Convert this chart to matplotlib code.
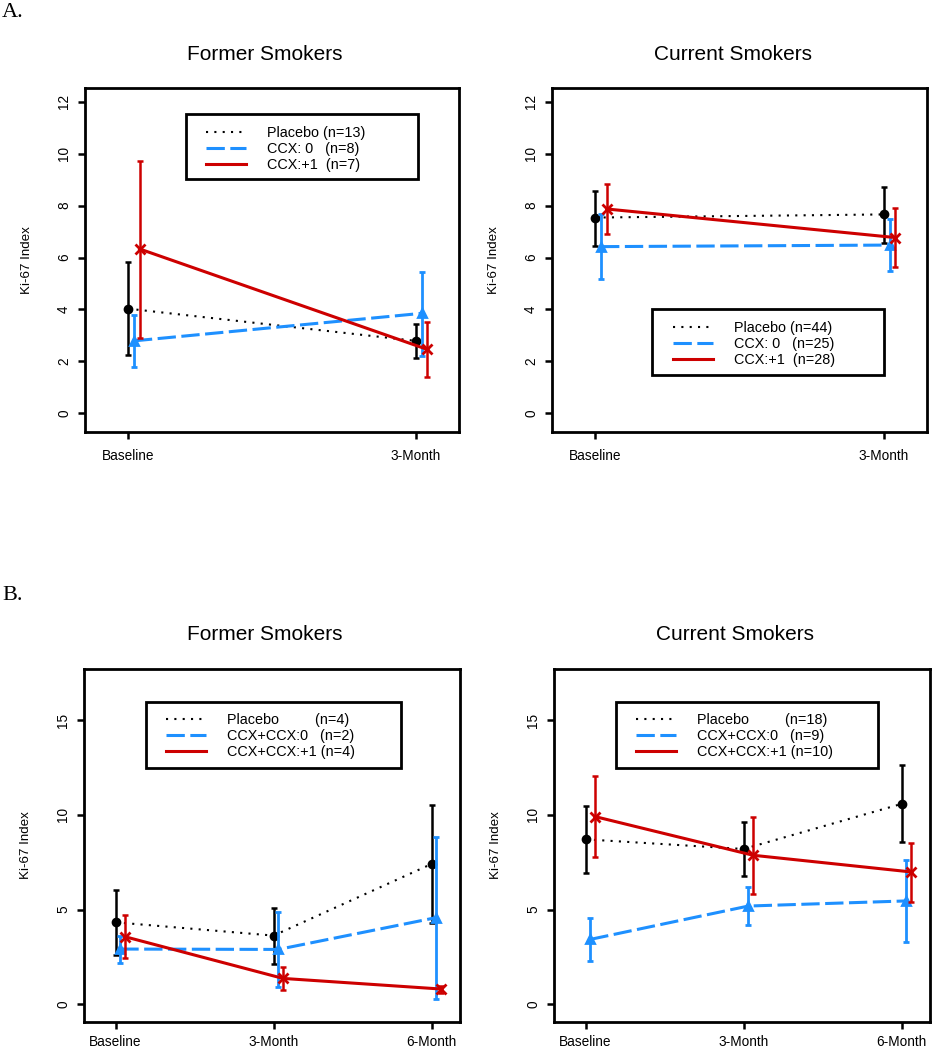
import matplotlib.pyplot as plt
from matplotlib.patches import Rectangle

plt.rcParams["font.family"] = ["Liberation Sans", "DejaVu Sans"]

# time points
times_a = ["Baseline", "3-Month"]
times_b = ["Baseline", "3-Month", "6-Month"]

# rows: placebo, CCX 0, CCX +1
a_former_mean = [[4.03, 2.79], [2.79, 3.85], [6.33, 2.46]]
a_former_lo = [[2.23, 2.12], [1.80, 2.21], [2.91, 1.41]]
a_former_hi = [[5.82, 3.45], [3.79, 5.46], [9.73, 3.50]]

a_current_mean = [[7.54, 7.66], [6.42, 6.48], [7.87, 6.77]]
a_current_lo = [[6.46, 6.57], [5.19, 5.48], [6.91, 5.62]]
a_current_hi = [[8.56, 8.73], [7.66, 7.47], [8.82, 7.91]]

b_former_mean = [[4.33, 3.63, 7.41], [2.92, 2.90, 4.58], [3.57, 1.37, 0.81]]
b_former_lo = [[2.61, 2.13, 4.28], [2.20, 0.90, 0.26], [2.46, 0.76, 0.62]]
b_former_hi = [[6.06, 5.11, 10.53], [3.63, 4.86, 8.84], [4.72, 1.99, 0.97]]

b_current_mean = [[8.71, 8.20, 10.58], [3.43, 5.19, 5.46], [9.91, 7.87, 6.99]]
b_current_lo = [[6.92, 6.80, 8.57], [2.31, 4.19, 3.31], [7.76, 5.81, 5.40]]
b_current_hi = [[10.49, 9.61, 12.61], [4.54, 6.21, 7.62], [12.06, 9.88, 8.54]]

a_former_legend = ["Placebo (n=13)", "CCX: 0   (n=8)", "CCX:+1  (n=7)"]
a_current_legend = ["Placebo (n=44)", "CCX: 0   (n=25)", "CCX:+1  (n=28)"]
b_former_legend = ["Placebo         (n=4)", "CCX+CCX:0   (n=2)", "CCX+CCX:+1 (n=4)"]
b_current_legend = ["Placebo         (n=18)", "CCX+CCX:0   (n=9)", "CCX+CCX:+1 (n=10)"]

colors = ["black", "#1E90FF", "#CD0000"]
markers = ["o", "^", "x"]
msizes = [5, 6, 7]
styles = [(0, (1, 3)), (0, (6, 1.8)), "-"]
widths = [1.5, 2.2, 2.2]
ebar_widths = [1.8, 2.0, 1.8]


def draw_panel(ax, times, mean, lo, hi, shift, ylim, yticks, title, legend, box_px, handle_x, row_top, xpad):
    xs = list(range(1, len(times) + 1))
    handles = []
    for g in range(3):
        gx = [x + shift * g for x in xs]
        ax.errorbar(gx, mean[g], yerr=[[m - l for m, l in zip(mean[g], lo[g])],
                                       [h - m for m, h in zip(mean[g], hi[g])]],
                    fmt="none", ecolor=colors[g], elinewidth=ebar_widths[g],
                    capsize=2, capthick=ebar_widths[g], zorder=2 + g)
        ax.plot(gx, mean[g], color=colors[g], linestyle=styles[g], lw=widths[g],
                marker=markers[g], ms=msizes[g], mew=2, dash_capstyle="butt",
                zorder=3 + g)
        handles.append(ax.plot([], [], color=colors[g], linestyle=styles[g], lw=widths[g])[0])

    ax.set_xlim(0.85 if len(times) == 2 else 0.80, 2.15 if len(times) == 2 else 3.18)
    ax.set_ylim(*ylim)
    ax.set_xticks(xs)
    ax.set_xticklabels(times)
    ax.set_yticks(yticks)
    ax.set_yticklabels([str(t) for t in yticks], rotation=90, va="center")
    ax.tick_params(axis="both", labelsize=9.8, length=5, width=1.8, direction="out")
    ax.tick_params(axis="x", pad=xpad)
    ax.tick_params(axis="y", pad=5)
    for sp in ax.spines.values():
        sp.set_linewidth(2)

    w = ax.bbox.width
    h = ax.bbox.height
    ax.text(0.5 - 7 / w, 1 + 34 / h, title, transform=ax.transAxes, ha="center",
            va="center", fontsize=15)
    ax.set_ylabel("Ki-67 Index", fontsize=9.6)
    ax.yaxis.set_label_coords(-52 / w, 0.5)

    x0, y0, x1, y1 = box_px
    ax.add_patch(Rectangle((x0 / w, 1 - y1 / h), (x1 - x0) / w, (y1 - y0) / h,
                           transform=ax.transAxes, fill=False, lw=2, ec="black",
                           zorder=10, clip_on=False))
    ax.legend(handles, legend, loc="upper left", bbox_to_anchor=(handle_x / w, 1 - row_top / h),
              frameon=False, borderpad=0, borderaxespad=0, fontsize=10.4,
              handlelength=2.8, handletextpad=1.4, labelspacing=0.13)


fig = plt.figure(figsize=(9.33, 10.5), dpi=100)
W, H = 933, 1050


def add_axes(left, top, right, bottom):
    return fig.add_axes([left / W, 1 - bottom / H, (right - left) / W, (bottom - top) / H])


ax1 = add_axes(85, 88, 459, 432)
ax2 = add_axes(552, 88, 927, 432)
ax3 = add_axes(84, 669, 460, 1022)
ax4 = add_axes(554, 669, 930, 1022)

draw_panel(ax1, times_a, a_former_mean, a_former_lo, a_former_hi, 0.02, (-0.72, 12.53),
           [0, 2, 4, 6, 8, 10, 12], "Former Smokers", a_former_legend,
           (101, 26, 333, 91), 121, 38, 7)
draw_panel(ax2, times_a, a_current_mean, a_current_lo, a_current_hi, 0.02, (-0.72, 12.53),
           [0, 2, 4, 6, 8, 10, 12], "Current Smokers", a_current_legend,
           (100, 221, 332, 287), 121, 233, 7)
draw_panel(ax3, times_b, b_former_mean, b_former_lo, b_former_hi, 0.03, (-0.93, 17.7),
           [0, 5, 10, 15], "Former Smokers", b_former_legend,
           (62, 33, 317, 99), 82, 44, 4.5)
draw_panel(ax4, times_b, b_current_mean, b_current_lo, b_current_hi, 0.03, (-0.93, 17.7),
           [0, 5, 10, 15], "Current Smokers", b_current_legend,
           (62, 33, 324, 99), 82, 44, 4.5)

fig.text(2 / W, 1 - 17 / H, "A.", family="Liberation Serif", fontsize=16, va="baseline")
fig.text(2 / W, 1 - 600 / H, "B.", family="Liberation Serif", fontsize=16, va="baseline")

fig.savefig("out.png", dpi=100)
